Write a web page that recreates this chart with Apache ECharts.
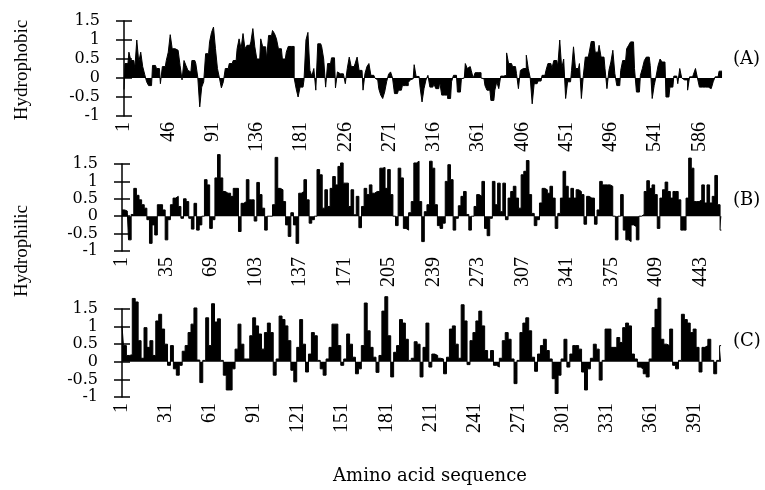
<!DOCTYPE html>
<html>
<head>
<meta charset="utf-8">
<script src="https://cdn.jsdelivr.net/npm/echarts@6/dist/echarts.min.js"></script>
<style>
  html, body { margin: 0; padding: 0; background: #fff; }
  #chart { width: 765px; height: 490px; }
</style>
</head>
<body>
<div id="chart"></div>
<script>
// Hydropathy profiles, one value per two residues (window average).
const STEP = 2;

const hydroA = [
  -0.3,0.38,0.38,0.68,0.46,0.46,0.25,1.0,0.42,0.68,
  0.3,0.1,-0.1,-0.2,-0.2,0.33,0.33,0.25,0.25,-0.15,
  0.3,0.3,0.46,0.68,1.14,0.77,0.77,0.73,0.73,0.33,
  -0.05,0.46,0.33,0.2,0.16,0.46,0.46,0.38,0.02,-0.76,
  -0.24,-0.1,0.64,0.64,0.95,1.2,1.34,0.77,0.25,0.0,
  -0.26,-0.1,0.25,0.25,0.38,0.38,0.46,0.46,0.77,1.03,
  0.77,1.17,0.77,0.86,0.86,0.95,1.3,0.82,0.5,0.5,
  1.03,0.82,0.82,0.5,1.12,1.12,1.25,1.17,1.03,0.77,
  0.77,0.5,0.5,0.68,0.83,0.83,0.83,0.0,-0.28,-0.5,
  -0.24,-0.24,-0.05,1.0,1.2,0.2,0.05,0.25,-0.32,0.9,
  0.9,0.82,0.5,-0.24,0.38,0.38,0.53,0.53,-0.26,0.16,
  0.11,0.11,0.11,-0.15,0.25,0.55,0.3,0.3,0.38,0.55,
  0.2,0.2,-0.32,0.12,0.3,0.38,0.07,0.07,0.0,-0.05,
  -0.28,-0.45,-0.54,-0.37,-0.1,0.1,0.16,0.0,-0.41,-0.41,
  -0.32,-0.32,-0.2,-0.2,-0.2,-0.12,-0.05,-0.02,0.35,0.04,
  0.04,-0.24,-0.63,-0.28,-0.05,0.07,-0.24,-0.24,-0.15,-0.28,
  -0.28,-0.1,-0.45,-0.45,-0.45,-0.54,-0.54,-0.1,0.07,0.07,
  -0.37,-0.37,-0.02,0.0,0.38,0.25,0.3,0.2,0.0,0.14,
  0.14,0.14,0.0,-0.02,-0.2,-0.32,-0.32,-0.59,-0.59,-0.32,
  -0.1,-0.28,0.05,0.05,0.07,0.66,0.38,0.38,0.3,0.3,
  0.12,-0.28,0.2,0.25,0.25,0.6,0.25,0.0,-0.68,-0.15,
  -0.15,-0.08,-0.08,0.07,0.07,0.2,0.38,0.38,0.25,0.46,
  0.46,0.3,1.0,0.25,0.5,-0.54,-0.1,-0.1,0.2,0.82,
  0.25,0.25,0.38,-0.54,0.07,0.55,0.55,0.68,0.96,0.96,
  0.68,0.68,0.86,0.55,0.55,0.25,-0.28,0.2,0.42,0.73,
  0.12,-0.2,-0.2,0.2,0.46,0.46,0.77,0.86,0.95,0.95,
  0.25,-0.37,-0.37,0.07,0.25,0.46,0.55,0.55,0.33,-0.54,
  -0.2,0.05,0.33,0.5,0.42,0.42,-0.5,-0.5,-0.24,-0.24,
  0.05,0.05,-0.15,0.25,0.0,-0.05,-0.05,-0.32,0.03,0.03,
  0.1,0.25,0.0,-0.24,-0.24,-0.24,-0.24,-0.24,-0.28,-0.28,
  -0.1,0.03,0.03,0.18,0.18
];

const hydroB = [
  0.18,0.18,0.15,-0.68,0.05,0.8,0.6,0.47,0.33,0.23,
  -0.1,-0.78,-0.25,-0.54,0.33,0.33,0.18,-0.68,-0.1,0.33,
  0.52,0.57,0.28,-0.06,0.5,0.42,-0.06,-0.37,0.37,-0.4,
  -0.25,0.0,1.05,0.9,-0.35,-0.1,1.1,1.77,1.1,0.71,
  0.66,0.66,0.57,0.8,0.8,-0.44,0.37,0.42,1.05,0.47,
  0.47,-0.14,0.97,0.62,0.23,-0.4,0.0,0.0,0.33,1.69,
  0.8,0.76,0.42,-0.25,-0.58,0.1,-0.25,-0.78,0.66,0.71,
  1.05,0.47,-0.2,-0.1,0.0,1.34,1.19,0.23,0.76,0.28,
  0.8,1.14,0.9,1.43,1.53,0.95,0.95,0.28,0.76,0.04,
  0.57,-0.33,0.28,0.8,0.62,0.9,0.66,0.71,0.71,1.38,
  1.4,0.8,1.34,0.62,0.0,-0.27,1.38,1.1,-0.35,-0.4,
  0.1,0.42,1.53,1.58,0.42,-0.73,0.13,0.33,
  1.58,1.38,0.33,-0.27,-0.35,-0.2,1.0,1.48,1.05,-0.4,-0.06,0.3,
  0.57,0.71,0.05,-0.4,0.0,0.28,0.62,0.57,1.0,-0.35,
  -0.56,-0.06,1.0,0.33,0.95,0.13,0.95,-0.1,0.52,0.71,
  0.86,0.52,0.23,1.19,1.29,1.6,0.62,0.08,-0.27,-0.1,
  0.38,0.8,0.76,0.66,0.86,0.52,-0.35,0.08,0.52,1.29,
  0.86,0.52,0.8,0.52,0.76,0.71,0.62,-0.23,0.57,0.52,
  0.52,-0.23,0.18,1.0,0.9,0.9,0.9,0.86,0.0,-0.68,
  0.0,0.62,-0.4,-0.68,-0.73,-0.25,-0.3,-0.68,0.0,0.05,
  0.71,1.02,0.8,0.9,0.62,-0.35,0.52,0.76,0.98,0.71,
  0.52,0.71,0.71,0.47,-0.4,-0.4,0.52,1.67,1.38,0.42,
  0.42,0.47,0.9,0.38,0.9,0.38,0.57,1.17,0.33,-0.4
];

const hydroC = [
  1.02,0.46,0.18,0.2,1.8,1.7,0.6,0.1,0.97,0.41,
  0.6,0.18,1.16,1.35,0.93,0.5,-0.1,0.46,-0.2,-0.38,
  -0.1,0.3,0.46,0.83,1.07,1.53,0.05,-0.59,0.04,1.25,
  0.46,1.65,1.13,1.22,0.04,-0.38,-0.8,-0.8,-0.2,0.36,
  1.07,0.5,0.08,0.08,0.74,1.25,1.02,0.79,0.36,0.83,
  1.1,0.83,-0.38,0.08,1.3,1.2,1.02,0.6,-0.24,-0.57,
  0.41,1.2,0.5,-0.29,0.22,0.83,0.74,0.04,-0.2,-0.38,
  0.08,0.41,1.07,1.07,0.46,-0.1,0.08,0.79,0.5,0.13,
  -0.34,-0.2,0.46,1.67,0.88,0.41,0.13,-0.3,0.18,1.44,
  1.85,0.74,-0.43,0.27,0.46,1.2,1.1,0.64,0.04,0.1,
  0.57,0.5,-0.43,0.41,1.1,-0.15,0.22,0.18,0.1,0.08,
  -0.34,0.13,0.93,1.02,0.5,0.1,1.62,1.16,-0.08,0.6,
  0.83,1.16,1.44,1.02,0.32,0.08,0.32,-0.1,-0.15,0.1,
  0.6,0.83,0.64,0.08,-0.62,0.04,0.83,1.1,1.25,0.88,
  0.13,-0.27,0.22,0.46,0.64,0.32,0.08,-0.48,-0.9,-0.38,
  0.08,0.64,-0.15,0.22,0.46,0.46,0.36,-0.29,-0.8,-0.2,
  0.1,0.5,0.36,-0.52,0.04,0.93,0.93,0.41,0.41,0.69,
  0.55,0.97,1.1,1.02,0.22,0.08,-0.15,-0.2,-0.34,-0.43,
  0.08,0.97,1.49,1.81,0.64,0.5,0.46,0.93,-0.1,-0.2,
  0.04,1.35,1.2,1.1,0.83,0.93,0.41,-0.29,0.41,0.46,
  0.64,0.04,-0.34,0.04,0.46
];

// Residue label spacing and axis length (residues) for each protein
const labelStepA = 45, labelStepB = 34, labelStepC = 30;
const axisLenA = 610, axisLenB = 460, axisLenC = 410;
const panelTags = ['(A)', '(B)', '(C)'];
const yMin = -1, yMax = 1.5, yStep = 0.5;

const panels = [
  { values: hydroA, labelStep: labelStepA, axisLen: axisLenA, grid: { left: 124, top: 21, width: 600, height: 95 }, tagY: 60 },
  { values: hydroB, labelStep: labelStepB, axisLen: axisLenB, grid: { left: 122, top: 164, width: 602, height: 87 }, tagY: 201 },
  { values: hydroC, labelStep: labelStepC, axisLen: axisLenC, grid: { left: 122, top: 309, width: 602, height: 88 }, tagY: 342 }
];
const crossHalf = 8; // half-width of the cross-shaped y ticks

const serif = 'Liberation Serif';
const wideSerif = 'DejaVu Serif';
const n = panels.length;

const grids = [], xAxes = [], yAxes = [], series = [], texts = [];

// grids 0..n-1 carry the profiles; grids n..2n-1 are narrow strips centred
// on each y axis whose split lines form the cross-shaped ticks
panels.forEach((p, k) => {
  grids[k] = Object.assign({ containLabel: false }, p.grid);
  grids[n + k] = {
    containLabel: false,
    left: p.grid.left - crossHalf, width: 2 * crossHalf,
    top: p.grid.top, height: p.grid.height
  };

  xAxes[k] = {
    type: 'value', gridIndex: k, min: 0, max: p.axisLen, interval: p.labelStep,
    axisLine: { show: false }, axisTick: { show: false }, splitLine: { show: false },
    axisLabel: {
      rotate: 90, margin: 6, color: '#000', fontFamily: serif, fontSize: 20,
      formatter: v => (v % p.labelStep === 0 ? String(v + 1) : '')
    }
  };
  xAxes[n + k] = { type: 'value', gridIndex: n + k, min: 0, max: 1, show: false };

  yAxes[k] = {
    type: 'value', gridIndex: k, position: 'left',
    min: yMin, max: yMax, interval: yStep,
    axisLine: { show: true, onZero: false, lineStyle: { color: '#000', width: 1.5 } },
    axisTick: { show: false },
    axisLabel: { margin: 24, color: '#000', fontFamily: wideSerif, fontSize: 16, padding: [4, 0, 0, 0] },
    splitLine: { show: false }
  };
  yAxes[n + k] = {
    type: 'value', gridIndex: n + k, position: 'left',
    min: yMin, max: yMax, interval: yStep,
    axisLine: { show: false, onZero: false },
    axisTick: { show: false },
    axisLabel: { show: false },
    splitLine: { show: true, lineStyle: { color: '#000', width: 1.5, type: 'solid' } }
  };

  series.push({
    type: 'line', xAxisIndex: k, yAxisIndex: k,
    step: 'middle', symbol: 'none', clip: false,
    lineStyle: { color: '#000', width: 1 },
    areaStyle: { color: '#000', opacity: 1 },
    data: p.values.map((v, i) => [i * STEP, v])
  });

  texts.push({
    type: 'text', left: 733, top: p.tagY - 10,
    style: { text: panelTags[k], fill: '#000', font: '18px "' + wideSerif + '"' }
  });
});

texts.push({
  type: 'text', x: 22, y: 70, rotation: Math.PI / 2,
  style: { text: 'Hydrophobic', fill: '#000', font: '19px "' + serif + '"', align: 'center', verticalAlign: 'middle' }
});
texts.push({
  type: 'text', x: 22, y: 251, rotation: Math.PI / 2,
  style: { text: 'Hydrophilic', fill: '#000', font: '19px "' + serif + '"', align: 'center', verticalAlign: 'middle' }
});
texts.push({
  type: 'text', x: 430, y: 476,
  style: { text: 'Amino acid sequence', fill: '#000', font: '18px "' + wideSerif + '"', align: 'center', verticalAlign: 'middle' }
});

const chart = echarts.init(document.getElementById('chart'), null, { renderer: 'canvas' });
chart.setOption({
  animation: false,
  backgroundColor: '#fff',
  grid: grids,
  xAxis: xAxes,
  yAxis: yAxes,
  series: series,
  graphic: texts
});
</script>
</body>
</html>
